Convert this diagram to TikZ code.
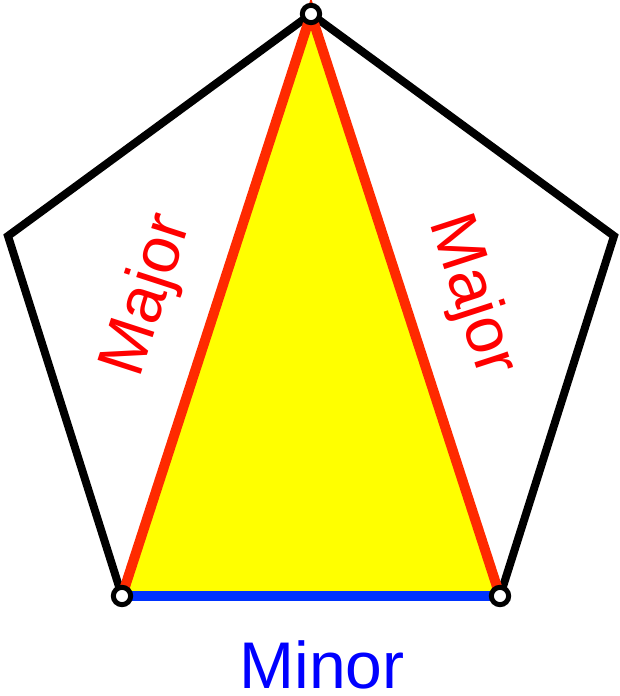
\documentclass[tikz,border=0pt]{standalone}
\usepackage{fontspec}
\setmainfont{Liberation Sans}
\definecolor{edgered}{HTML}{FF2A00}
\definecolor{txtred}{HTML}{FF0000}
\definecolor{edgeblue}{HTML}{0033FF}
\definecolor{txtblue}{HTML}{0000FF}
\definecolor{fillyellow}{HTML}{FFFF00}
\begin{document}
\begin{tikzpicture}[x=0.75pt,y=-0.75pt,
  pent/.style={draw=black,line width=6pt,line join=miter},
  major/.style={draw=edgered,line width=7.5pt,line cap=round},
  minor/.style={draw=edgeblue,line width=7.5pt},
  vtx/.style={circle,draw=black,fill=white,line width=3.75pt,minimum size=13pt,inner sep=0pt},
  lbl/.style={font=\fontsize{49.5pt}{59pt}\selectfont,inner sep=0pt}]
\useasboundingbox (0,0) rectangle (620,696);
\coordinate (T) at (311,14);
\coordinate (L) at (8,236);
\coordinate (R) at (614,236);
\coordinate (BL) at (122,596);
\coordinate (BR) at (500,596);
\fill[fillyellow] (T) -- (BL) -- (BR) -- cycle;
\draw[pent] (T) -- (L) -- (BL);
\draw[pent] (T) -- (R) -- (BR);
\draw[minor] (BL) -- (BR);
\draw[major] (BL) -- (T) -- (BR);
\node[vtx] (vT) at (T) {};
\node[vtx] (vBL) at (BL) {};
\node[vtx] (vBR) at (BR) {};
\node[lbl,text=txtred,rotate=72] (mL) at (149,296) {Major};
\node[lbl,text=txtred,rotate=-72] (mR) at (471,296) {Major};
\node[lbl,text=txtblue,anchor=base] (mn) at (322,688) {Minor};
\end{tikzpicture}
\end{document}
